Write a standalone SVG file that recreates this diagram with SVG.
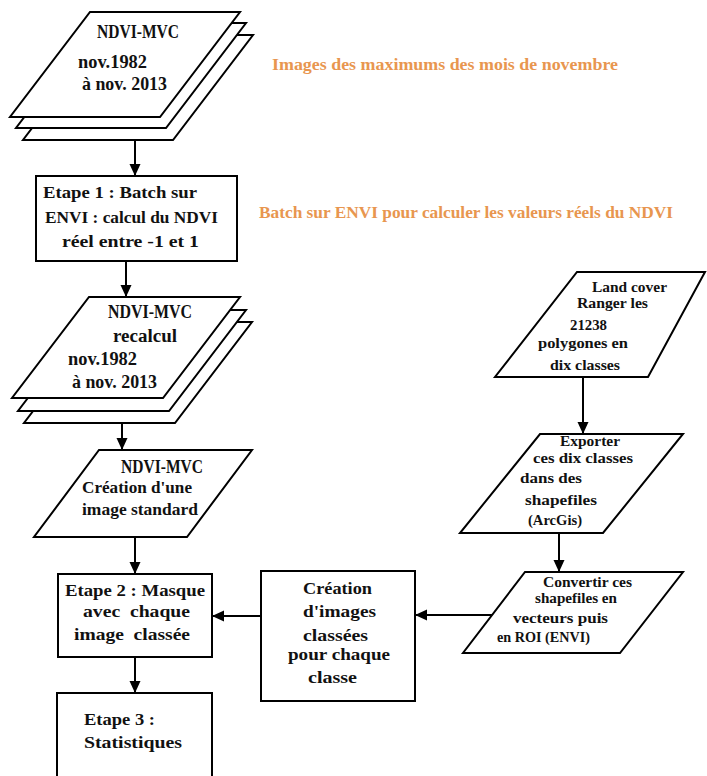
<svg xmlns="http://www.w3.org/2000/svg" width="707" height="776" viewBox="0 0 707 776">
<style>
.s{fill:#fff;stroke:#000;stroke-width:2;stroke-linejoin:miter}
.t{font-family:"Liberation Serif",serif;font-weight:bold;font-size:17px;fill:#111}
.n{font-size:18px}
.r{font-size:15.5px}
.o{font-family:"Liberation Serif",serif;font-weight:bold;font-size:16.5px;fill:#E8964F}
.c{stroke:#000;stroke-width:2;fill:none;marker-end:url(#ah)}
</style>
<defs>
<marker id="ah" markerUnits="userSpaceOnUse" markerWidth="12" markerHeight="12" refX="12" refY="5.5" orient="auto">
<path d="M0,0 L12,5.5 L0,11 z" fill="#000"/>
</marker>
</defs>
<rect width="707" height="776" fill="#fff"/>

<g id="stack1">
<polygon class="s" points="103,35 253,35 173,140 23,140"/>
<polygon class="s" points="96,23 246,23 166,128 16,128"/>
<polygon class="s" points="90,12 240,12 160,117 10,117"/>
<text class="t n" x="97" y="38" textLength="82" lengthAdjust="spacingAndGlyphs">NDVI-MVC</text>
<text class="t n" x="78" y="68" textLength="69" lengthAdjust="spacingAndGlyphs">nov.1982</text>
<text class="t n" x="82" y="90" textLength="85" lengthAdjust="spacingAndGlyphs">à nov. 2013</text>
</g>

<g id="note1">
<text class="o" x="272" y="70" textLength="346" lengthAdjust="spacingAndGlyphs">Images des maximums des mois de novembre</text>
</g>

<g id="etape1">
<rect class="s" x="36" y="176" width="201" height="85"/>
<text class="t" x="43" y="198" textLength="154" lengthAdjust="spacingAndGlyphs">Etape 1 : Batch sur</text>
<text class="t" x="45" y="223" textLength="173" lengthAdjust="spacingAndGlyphs">ENVI : calcul du NDVI</text>
<text class="t" x="62" y="247" textLength="137" lengthAdjust="spacingAndGlyphs">réel entre -1 et 1</text>
</g>

<g id="note2">
<text class="o" x="259" y="218" textLength="414" lengthAdjust="spacingAndGlyphs">Batch sur ENVI pour calculer les valeurs réels du NDVI</text>
</g>

<g id="stack2">
<polygon class="s" points="101,322 252,322 175,423 24,423"/>
<polygon class="s" points="95,310 246,310 169,411 18,411"/>
<polygon class="s" points="89,297 240,297 163,398 12,398"/>
<text class="t n" x="108" y="318" textLength="84" lengthAdjust="spacingAndGlyphs">NDVI-MVC</text>
<text class="t n" x="113" y="342" textLength="64" lengthAdjust="spacingAndGlyphs">recalcul</text>
<text class="t n" x="68" y="365" textLength="69" lengthAdjust="spacingAndGlyphs">nov.1982</text>
<text class="t n" x="72" y="388" textLength="85" lengthAdjust="spacingAndGlyphs">à nov. 2013</text>
</g>

<g id="standard">
<polygon class="s" points="99,450 252,450 187,537 34,537"/>
<text class="t n" x="121" y="473" textLength="82" lengthAdjust="spacingAndGlyphs">NDVI-MVC</text>
<text class="t" x="82" y="493" textLength="110" lengthAdjust="spacingAndGlyphs">Création d'une</text>
<text class="t" x="82" y="515" textLength="116" lengthAdjust="spacingAndGlyphs">image standard</text>
</g>

<g id="etape2">
<rect class="s" x="58" y="574" width="154" height="83"/>
<text class="t" x="65" y="596" textLength="140" lengthAdjust="spacingAndGlyphs">Etape 2 : Masque</text>
<text class="t" x="83" y="617" textLength="107" lengthAdjust="spacingAndGlyphs" xml:space="preserve">avec  chaque</text>
<text class="t" x="74" y="640" textLength="116" lengthAdjust="spacingAndGlyphs" xml:space="preserve">image  classée</text>
</g>

<g id="etape3">
<rect class="s" x="57" y="693" width="155" height="90"/>
<text class="t" x="84" y="725" textLength="71" lengthAdjust="spacingAndGlyphs">Etape 3 :</text>
<text class="t" x="84" y="748" textLength="98" lengthAdjust="spacingAndGlyphs">Statistiques</text>
</g>

<g id="creation">
<rect class="s" x="261" y="571" width="154" height="130"/>
<text class="t" x="303" y="594" textLength="69" lengthAdjust="spacingAndGlyphs">Création</text>
<text class="t" x="303" y="617" textLength="73" lengthAdjust="spacingAndGlyphs">d'images</text>
<text class="t" x="303" y="641" textLength="65" lengthAdjust="spacingAndGlyphs">classées</text>
<text class="t" x="288" y="660" textLength="102" lengthAdjust="spacingAndGlyphs">pour chaque</text>
<text class="t" x="308" y="683" textLength="49" lengthAdjust="spacingAndGlyphs">classe</text>
</g>

<g id="landcover">
<polygon class="s" points="577,272 705,272 648,377 495,377"/>
<text class="t r" x="592" y="292" textLength="75" lengthAdjust="spacingAndGlyphs">Land cover</text>
<text class="t r" x="577" y="308" textLength="71" lengthAdjust="spacingAndGlyphs">Ranger les</text>
<text class="t r" x="570" y="330" textLength="37" lengthAdjust="spacingAndGlyphs">21238</text>
<text class="t r" x="538" y="348" textLength="90" lengthAdjust="spacingAndGlyphs">polygones en</text>
<text class="t r" x="550" y="370" textLength="70" lengthAdjust="spacingAndGlyphs">dix classes</text>
</g>

<g id="exporter">
<polygon class="s" points="540,434 683,434 603,533 460,533"/>
<text class="t r" x="560" y="446" textLength="60" lengthAdjust="spacingAndGlyphs">Exporter</text>
<text class="t r" x="533" y="463" textLength="100" lengthAdjust="spacingAndGlyphs">ces dix classes</text>
<text class="t r" x="520" y="483" textLength="62" lengthAdjust="spacingAndGlyphs">dans des</text>
<text class="t r" x="525" y="505" textLength="72" lengthAdjust="spacingAndGlyphs">shapefiles</text>
<text class="t r" x="528" y="525" textLength="54" lengthAdjust="spacingAndGlyphs">(ArcGis)</text>
</g>

<g id="convertir">
<polygon class="s" points="525,572 683,572 620,653 463,653"/>
<text class="t r" x="543" y="587" textLength="89" lengthAdjust="spacingAndGlyphs">Convertir ces</text>
<text class="t r" x="535" y="603" textLength="82" lengthAdjust="spacingAndGlyphs">shapefiles en</text>
<text class="t r" x="513" y="623" textLength="95" lengthAdjust="spacingAndGlyphs">vecteurs puis</text>
<text class="t r" x="497" y="642" textLength="93" lengthAdjust="spacingAndGlyphs">en ROI (ENVI)</text>
</g>

<g id="connectors">
<line class="c" x1="135" y1="140" x2="135" y2="176"/>
<line class="c" x1="126" y1="261" x2="126" y2="297"/>
<line class="c" x1="122" y1="423" x2="122" y2="450"/>
<line class="c" x1="135" y1="537" x2="135" y2="574"/>
<line class="c" x1="135" y1="657" x2="135" y2="693"/>
<line class="c" x1="583" y1="377" x2="583" y2="434"/>
<line class="c" x1="559" y1="533" x2="559" y2="572"/>
<line class="c" x1="492" y1="615" x2="415" y2="615"/>
<line class="c" x1="261" y1="616" x2="212" y2="616"/>
</g>
</svg>
